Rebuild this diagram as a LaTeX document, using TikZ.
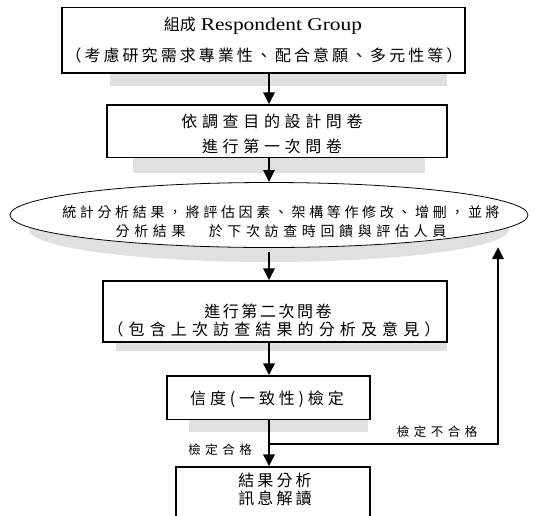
\documentclass[tikz,border=0pt]{standalone}
\usepackage{fontspec}
\usetikzlibrary{arrows.meta,shapes.geometric}
\newfontfamily\cjk{Noto Sans CJK TC}
\newfontfamily\lat[FakeStretch=1.19]{Liberation Serif}
\newcommand\lsp[2]{{\addfontfeature{LetterSpace=#1}#2}}
\definecolor{shade}{HTML}{E0E0E0}
\begin{document}
\begin{tikzpicture}[x=1pt,y=-1pt,
  box/.style={draw=black,line width=1.2pt,fill=white,rectangle,inner sep=0pt},
  oval/.style={draw=black,line width=0.8pt,fill=white,ellipse,inner sep=0pt},
  txt/.style={inner sep=0pt,font=\cjk\fontsize{16}{16}\selectfont},
  small/.style={inner sep=0pt,font=\cjk\fontsize{14}{14}\selectfont},
  lbl/.style={inner sep=0pt,font=\cjk\fontsize{12.5}{12.5}\selectfont},
  arr/.style={line width=2.8pt,-{Triangle[length=12pt,width=11pt]}},
  shadow/.style={fill=shade,draw=none}]
\useasboundingbox (0,0) rectangle (537,515);
\begin{scope}
\clip (0,0) rectangle (537,515);
% shadows
\fill[shadow] (110,60) rectangle (447,86);
\fill[shadow] (133,150) rectangle (425,173);
\fill[shadow] (269,229.5) ellipse [x radius=240pt, y radius=32.5pt];
\fill[shadow] (116,330) rectangle (447,351);
\fill[shadow] (189,410) rectangle (368,432);
% shapes
\node[box,minimum width=403pt,minimum height=65.5pt] (b1) at (263.5,40.25) {};
\node[box,minimum width=340pt,minimum height=52.5pt] (b2) at (277,131.25) {};
\node[oval,minimum width=518pt,minimum height=65pt] (ell) at (269,215) {};
\node[box,minimum width=344pt,minimum height=61pt] (b3) at (275,311.5) {};
\node[box,minimum width=203pt,minimum height=43.5pt] (b4) at (268.5,397.75) {};
\node[box,minimum width=194pt,minimum height=60pt] (b5) at (273,497) {};
\end{scope}
% texts
\node[txt] (t1a) at (263,25.5) {組成\hspace{5pt}{\lat\fontsize{18}{18}\selectfont Respondent Group}};
\node[txt] (t1b) at (264,55) {\lsp{19}{（考慮研究需求專業性、配合意願、多元性等）}};
\node[txt] (t2a) at (272,121.5) {\lsp{29}{依調查目的設計問卷}};
\node[txt] (t2b) at (272,146.5) {\lsp{29}{進行第一次問卷}};
\node[small] (tea) at (281,212.5) {\lsp{26}{統計分析結果，將評估因素、架構等作修改、增刪，並將}};
\node[small] (teb) at (281,231) {\lsp{33}{分析結果　於下次訪查時回饋與評估人員}};
\node[txt] (t3a) at (268,311) {\lsp{16}{進行第二次問卷}};
\node[txt] (t3b) at (274,329) {\lsp{32}{（包含上次訪查結果的分析及意見）}};
\node[txt] (t4) at (267,399) {\lsp{24}{信度(一致性)檢定}};
\node[txt] (t5a) at (275,480) {\lsp{19}{結果分析}};
\node[txt] (t5b) at (275,498) {\lsp{19}{訊息解讀}};
\node[lbl] (l1) at (220,450) {\lsp{36}{檢定合格}};
\node[lbl] (l2) at (437,432) {\lsp{36}{檢定不合格}};
% connectors
\coordinate (ax) at (269,0);
\coordinate (j) at (269,444);
\coordinate (fb) at (498,247);
\coordinate (e2) at (269,252);
\draw[arr] (b1.south -| ax) -- (b2.north -| ax);
\draw[arr] (b2.south -| ax) -- (ell.north);
\draw[arr] (e2) -- (b3.north -| ax);
\draw[arr] (b3.south -| ax) -- (b4.north -| ax);
\draw[arr] (b4.south -| ax) -- (b5.north -| ax);
\draw[arr] (j) -| (fb);
\end{tikzpicture}
\end{document}
